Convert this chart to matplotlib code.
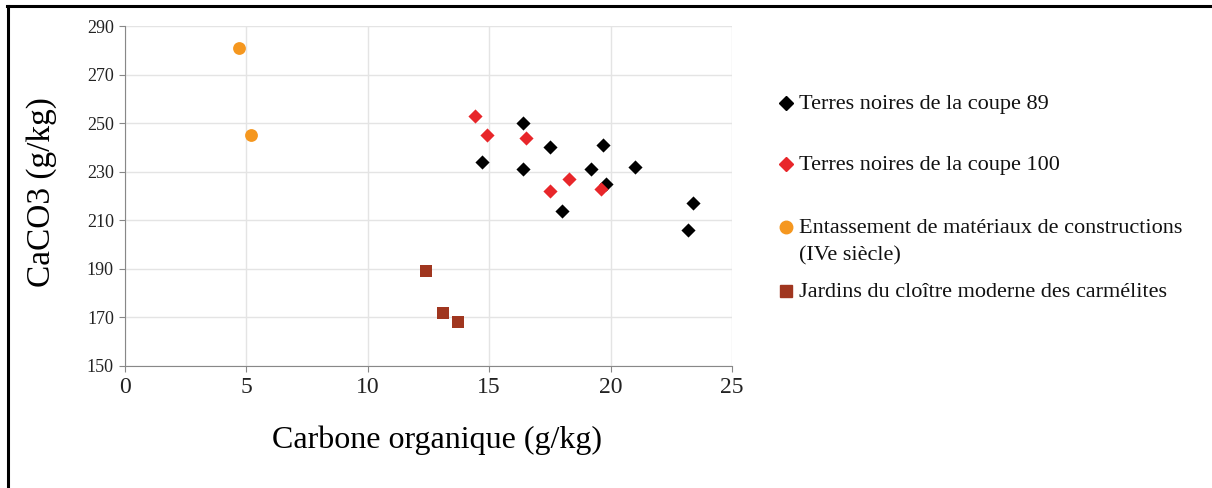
import matplotlib
matplotlib.use("Agg")
import matplotlib.pyplot as plt
from matplotlib.lines import Line2D

plt.rcParams['font.family'] = ['Liberation Serif', 'DejaVu Serif']

# Terres noires de la coupe 89
c89_x = [16.4, 14.7, 16.4, 17.5, 19.7, 19.2, 19.8, 21.0, 18.0, 23.4, 23.2]
c89_y = [250, 234, 231, 240, 241, 231, 225, 232, 214, 217, 206]
# Terres noires de la coupe 100
c100_x = [14.4, 14.9, 16.5, 18.3, 17.5, 19.6]
c100_y = [253, 245, 244, 227, 222, 223]
# Entassement de materiaux (IVe siecle)
ent_x = [4.7, 5.2]
ent_y = [281, 245]
# Jardins du cloitre
jar_x = [12.4, 13.1, 13.7]
jar_y = [189, 172, 168]

labels = ["Terres noires de la coupe 89",
          "Terres noires de la coupe 100",
          "Entassement de matériaux de constructions\n(IVe siècle)",
          "Jardins du cloître moderne des carmélites"]
colors = ["#000000", "#E8262A", "#F5971F", "#A0361F"]
markers = ['D', 'D', 'o', 's']

W, H = 1212, 488
fig = plt.figure(figsize=(W / 100, H / 100), dpi=100)
ax = fig.add_axes([125 / W, 1 - 366 / H, 607 / W, 340 / H])

ax.scatter(c89_x, c89_y, marker='D', s=52, color=colors[0], zorder=3, linewidths=0)
ax.scatter(c100_x, c100_y, marker='D', s=52, color=colors[1], zorder=3, linewidths=0)
ax.scatter(ent_x, ent_y, marker='o', s=85, color=colors[2], zorder=3, linewidths=0)
ax.scatter(jar_x, jar_y, marker='s', s=75, color=colors[3], zorder=3, linewidths=0)

ax.set_xlim(0, 25)
ax.set_ylim(150, 290)
ax.set_xticks(range(0, 26, 5))
ax.set_yticks(range(150, 291, 20))
ax.grid(True, color='#e4e4e4', linewidth=1)
ax.set_axisbelow(True)
for s in ['top', 'right']:
    ax.spines[s].set_visible(False)
for s in ['left', 'bottom']:
    ax.spines[s].set_color('#888888')
ax.tick_params(axis='both', colors='#888888', length=4)
ax.tick_params(axis='y', labelsize=13, labelcolor='#222222', pad=4)
ax.tick_params(axis='x', labelsize=17, labelcolor='#222222', pad=4)

ax.set_xlabel("Carbone organique (g/kg)", fontsize=23)
ax.set_ylabel("CaCO3 (g/kg)", fontsize=24)
ax.xaxis.set_label_coords(0.514, -0.175)
ax.yaxis.set_label_coords(-0.112, 0.513)

# legend drawn by hand so the orange marker sits on the first line
baselines = [[109], [170], [233, 260], [297]]
for lab, col, mk, bl in zip(labels, colors, markers, baselines):
    ms = {'D': 7, 'o': 9, 's': 8.5}[mk]
    fig.add_artist(Line2D([786 / W], [1 - (bl[0] - 6.5) / H], marker=mk,
                          color=col, markersize=ms, linestyle=''))
    for line, b in zip(lab.split('\n'), bl):
        fig.text(799 / W, 1 - b / H, line, fontsize=16, va='baseline',
                 ha='left', color='#111111')

# outer frame (top and left edges visible)
fig.add_artist(Line2D([7 / W, 1], [1 - 6 / H, 1 - 6 / H], color='black', linewidth=2.2))
fig.add_artist(Line2D([8 / W, 8 / W], [0, 1 - 6 / H], color='black', linewidth=2.2))

fig.savefig("out.png", dpi=100)
